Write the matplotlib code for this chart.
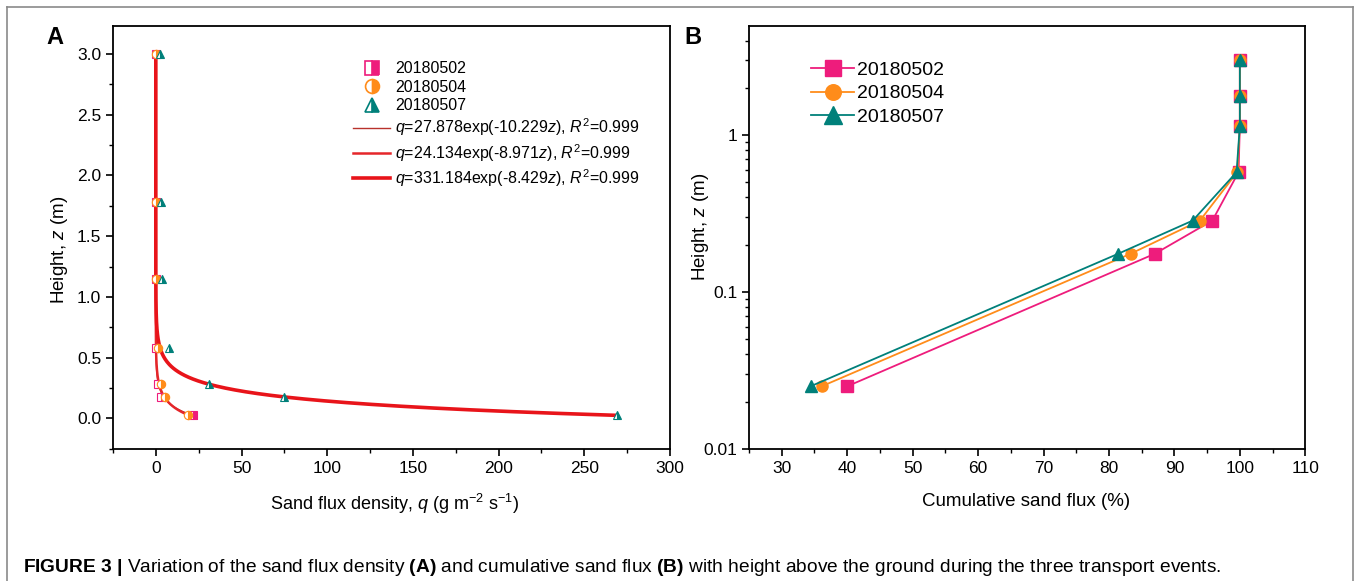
import numpy as np
import matplotlib
matplotlib.use('Agg')
import matplotlib.pyplot as plt
from matplotlib.lines import Line2D
from matplotlib.ticker import MultipleLocator, LogLocator, FixedLocator, FixedFormatter

plt.rcParams['font.family'] = ['Liberation Sans', 'DejaVu Sans']
plt.rcParams['mathtext.fontset'] = 'custom'
plt.rcParams['mathtext.rm'] = 'Liberation Sans'
plt.rcParams['mathtext.it'] = 'Liberation Sans:italic'
plt.rcParams['mathtext.bf'] = 'Liberation Sans:bold'

# Heights of the samplers (m)
heights = [0.025, 0.175, 0.285, 0.58, 1.15, 1.78, 3.0]
events = ['20180502', '20180504', '20180507']

# (A) sand flux density q (g m-2 s-1)
q_0502 = [21.7, 3.0, 1.2, 0.4, 0.1, 0.05, 0.03]
q_0504 = [18.5, 5.4, 2.9, 1.0, 0.3, 0.2, 0.1]
q_0507 = [269.0, 75.0, 31.0, 7.5, 3.5, 2.8, 2.3]

# exponential fits q = a*exp(b*z)
fit_a = [27.878, 24.134, 331.184]
fit_b = [-10.229, -8.971, -8.429]
fit_labels = ['$q$=27.878exp(-10.229$z$), $R^2$=0.999',
              '$q$=24.134exp(-8.971$z$), $R^2$=0.999',
              '$q$=331.184exp(-8.429$z$), $R^2$=0.999']

# (B) cumulative sand flux (%)
cum_0502 = [40.0, 87.0, 95.8, 99.8, 100.0, 100.0, 100.0]
cum_0504 = [36.1, 83.3, 93.9, 99.6, 100.0, 100.0, 100.0]
cum_0507 = [34.4, 81.4, 92.8, 99.5, 100.0, 100.0, 100.0]

colors = ['#EE1C7C', '#FF8C1A', '#00807A']
markers = ['s', 'o', '^']
fit_colors = ['#B8322C', '#E5262A', '#E8141A']
fit_widths = [1.0, 1.8, 2.6]

fig = plt.figure(figsize=(13.56, 5.81), dpi=100)

# ---------- panel A ----------
axA = fig.add_axes([0.0833, 0.2277, 0.4108, 0.7275])
zz = np.linspace(heights[0], heights[-1], 400)
fit_handles = []
for a, b, c, w, lab in zip(fit_a, fit_b, fit_colors, fit_widths, fit_labels):
    h, = axA.plot(a * np.exp(b * zz), zz, color=c, lw=w, label=lab, zorder=2)
    fit_handles.append(h)

pt_handles = []
for q, c, m, lab in zip([q_0502, q_0504, q_0507], colors, markers, events):
    axA.plot(q, heights, ls='none', marker=m, ms=6, mfc=c, mfcalt='white',
             fillstyle='right', mec=c, mew=0.8, zorder=3)
    pt_handles.append(Line2D([], [], ls='none', marker=m, ms=10, mfc=c, mfcalt='white',
                             fillstyle='right', mec=c, mew=1.2, label=lab))

axA.set_xlim(-25, 300)
axA.set_ylim(-0.25, 3.23)
axA.xaxis.set_major_locator(MultipleLocator(50))
axA.xaxis.set_minor_locator(MultipleLocator(25))
axA.yaxis.set_major_locator(MultipleLocator(0.5))
axA.yaxis.set_minor_locator(MultipleLocator(0.25))
axA.yaxis.set_major_formatter(plt.FormatStrFormatter('%.1f'))
axA.set_xlabel('Sand flux density, $q$ (g m$^{-2}$ s$^{-1}$)', fontsize=13)
axA.set_ylabel('Height, $z$ (m)', fontsize=13.5)
axA.xaxis.set_label_coords(0.506, -0.102)
axA.yaxis.set_label_coords(-0.077, 0.47)
axA.legend(handles=pt_handles + fit_handles, loc='upper left', bbox_to_anchor=(0.42, 0.932),
           frameon=False, fontsize=11.5, handlelength=2.3, handletextpad=0.3,
           labelspacing=0.22, borderaxespad=0)

# ---------- panel B ----------
axB = fig.add_axes([0.5524, 0.2277, 0.4102, 0.7275])
for cum, c, m, lab in zip([cum_0502, cum_0504, cum_0507], colors, markers, events):
    axB.plot(cum, heights, color=c, lw=1.3, marker=m, ms=8 if m != '^' else 9,
             mfc=c, mec=c, label=lab)
axB.set_yscale('log')
axB.set_xlim(25, 110)
axB.set_ylim(0.01, 4.96)
axB.xaxis.set_major_locator(MultipleLocator(10))
axB.xaxis.set_minor_locator(MultipleLocator(5))
axB.yaxis.set_major_locator(FixedLocator([0.01, 0.1, 1]))
axB.yaxis.set_major_formatter(FixedFormatter(['0.01', '0.1', '1']))
axB.yaxis.set_minor_locator(LogLocator(base=10, subs=np.arange(2, 10) * 1.0))
axB.yaxis.set_minor_formatter(plt.NullFormatter())
axB.set_xlabel('Cumulative sand flux (%)', fontsize=13.5)
axB.set_ylabel('Height, $z$ (m)', fontsize=13.5)
axB.xaxis.set_label_coords(0.498, -0.104)
axB.yaxis.set_label_coords(-0.068, 0.524)
axB.legend(loc='upper left', bbox_to_anchor=(0.098, 0.935), frameon=False, fontsize=14,
           handlelength=2.2, handletextpad=0.15, labelspacing=0.3, borderaxespad=0,
           markerscale=1.4)

for ax in (axA, axB):
    for s in ax.spines.values():
        s.set_linewidth(1.3)
    ax.tick_params(which='major', direction='out', length=5, width=1.2, labelsize=12.5)
    ax.tick_params(which='minor', direction='out', length=3, width=1.0)

fig.text(55 / 1356, 1 - 38 / 581, 'A', fontsize=17, fontweight='bold', ha='center', va='center')
fig.text(693 / 1356, 1 - 38 / 581, 'B', fontsize=17, fontweight='bold', ha='center', va='center')

# outer frame
fr = dict(color='#8a8a8a', lw=1.2, transform=fig.transFigure)
fig.add_artist(Line2D([7 / 1356, 7 / 1356], [0, 1 - 6.7 / 581], **fr))
fig.add_artist(Line2D([7 / 1356, 1353 / 1356], [1 - 6.7 / 581, 1 - 6.7 / 581], **fr))
fig.add_artist(Line2D([1353 / 1356, 1353 / 1356], [0, 1 - 6.7 / 581], **fr))

fig.text(23 / 1356, 1 - 567 / 581,
         r'$\mathbf{FIGURE\ 3\ |}$ Variation of the sand flux density $\mathbf{(A)}$ and cumulative '
         r'sand flux $\mathbf{(B)}$ with height above the ground during the three transport events.',
         fontsize=13.8, va='center', ha='left')

fig.savefig('out.png', dpi=100)
